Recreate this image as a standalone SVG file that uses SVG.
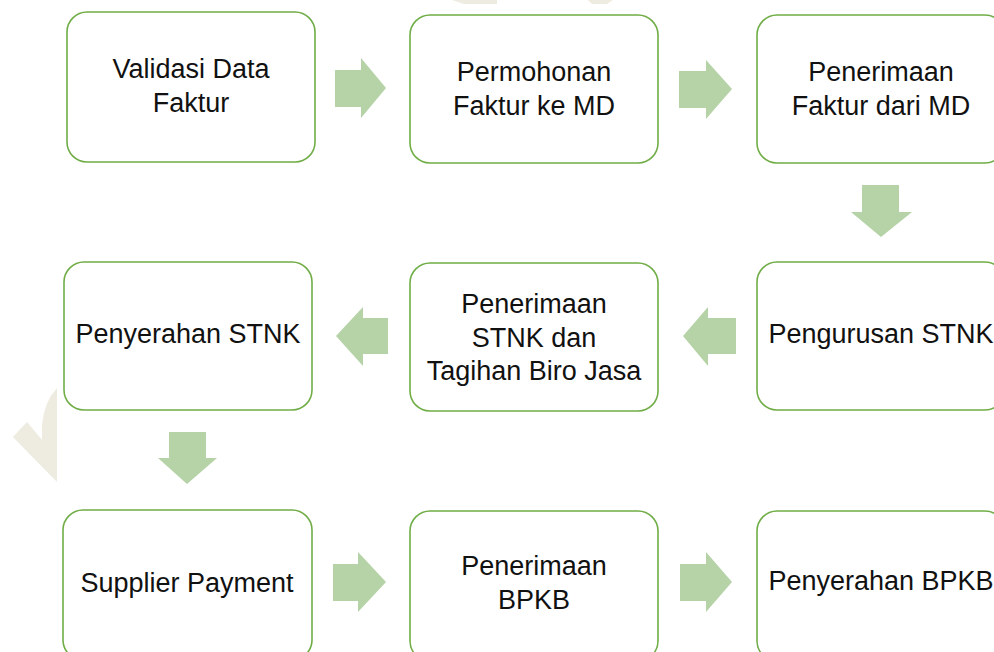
<svg xmlns="http://www.w3.org/2000/svg" width="994" height="652" viewBox="0 0 994 652">
<style>
.box{fill:#fff;stroke:#70AD47;stroke-width:1.6}
.lbl{font-family:"Liberation Sans",Arial,sans-serif;font-size:27px;fill:#111;text-anchor:middle}
.arr{fill:#B5D3A6}
.wm{fill:#EEEBE0}
</style>
<rect width="994" height="652" fill="#fff"/>
<g id="watermark">
<path class="wm" d="M57,388 Q44,402 42,425 L42,440 L27,422 L13,437 L57,482 Z"/>
<path class="wm" d="M452,0 L497,0 L497,4 L464,4 Z"/>
<path class="wm" d="M588,0 L613,0 L607,4 L592,4 Z"/>
</g>
<g id="connectors">
<path class="arr" d="M335,70 L361,70 L361,58 L386,88 L361,118 L361,107 L335,107 Z"/>
<path class="arr" d="M679,71 L706,71 L706,60 L732,89 L706,119 L706,108 L679,108 Z"/>
<path class="arr" d="M862,185 L899,185 L899,212 L912,212 L881,237 L851,212 L862,212 Z"/>
<path class="arr" d="M736,318 L708,318 L708,307 L683,336 L708,366 L708,354 L736,354 Z"/>
<path class="arr" d="M388,318 L363,318 L363,307 L336,336 L363,366 L363,354 L388,354 Z"/>
<path class="arr" d="M169,432 L206,432 L206,458 L217,458 L187,484 L158,458 L169,458 Z"/>
<path class="arr" d="M333,564 L358,564 L358,552 L386,582 L358,612 L358,601 L333,601 Z"/>
<path class="arr" d="M680,564 L706,564 L706,552 L732,582 L706,612 L706,601 L680,601 Z"/>
</g>
<g id="n1"><rect class="box" x="67" y="12" width="248" height="150" rx="20"/>
<text class="lbl" x="191" y="78">Validasi Data</text><text class="lbl" x="191" y="112">Faktur</text></g>
<g id="n2"><rect class="box" x="410" y="15" width="248" height="148" rx="20"/>
<text class="lbl" x="534" y="81">Permohonan</text><text class="lbl" x="534" y="115">Faktur ke MD</text></g>
<g id="n3"><rect class="box" x="757" y="15" width="248" height="148" rx="20"/>
<text class="lbl" x="881" y="81">Penerimaan</text><text class="lbl" x="881" y="115">Faktur dari MD</text></g>
<g id="n4"><rect class="box" x="757" y="262" width="248" height="148" rx="20"/>
<text class="lbl" x="881" y="343">Pengurusan STNK</text></g>
<g id="n5"><rect class="box" x="410" y="263" width="248" height="148" rx="20"/>
<text class="lbl" x="534" y="313">Penerimaan</text><text class="lbl" x="534" y="347">STNK dan</text><text class="lbl" x="534" y="380">Tagihan Biro Jasa</text></g>
<g id="n6"><rect class="box" x="64" y="262" width="248" height="148" rx="20"/>
<text class="lbl" x="188" y="343">Penyerahan STNK</text></g>
<g id="n7"><rect class="box" x="63" y="510" width="249" height="150" rx="20"/>
<text class="lbl" x="187" y="592">Supplier Payment</text></g>
<g id="n8"><rect class="box" x="410" y="511" width="248" height="150" rx="20"/>
<text class="lbl" x="534" y="575">Penerimaan</text><text class="lbl" x="534" y="609">BPKB</text></g>
<g id="n9"><rect class="box" x="757" y="511" width="248" height="150" rx="20"/>
<text class="lbl" x="881" y="590">Penyerahan BPKB</text></g>
</svg>
